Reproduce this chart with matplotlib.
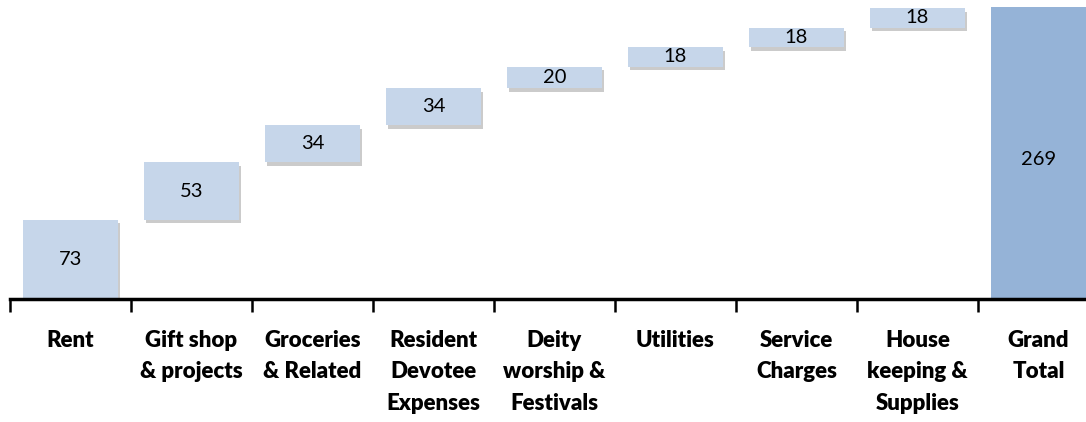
import numpy as np
import matplotlib
matplotlib.use("Agg")
import matplotlib.pyplot as plt
import matplotlib.patheffects as pe

# data
categories = ["Rent", "Gift shop\n& projects", "Groceries\n& Related", "Resident\nDevotee\nExpenses",
              "Deity\nworship &\nFestivals", "Utilities", "Service\nCharges", "House\nkeeping &\nSupplies",
              "Grand\nTotal"]
values = [73, 53, 34, 34, 20, 18, 18, 18]
total = 269

plt.rcParams['font.family'] = ['Lato', 'DejaVu Sans']

fig = plt.figure(figsize=(10.86, 4.22), dpi=100)
ax = fig.add_axes([10 / 1086, 1 - 299 / 422, 1089 / 1086, 299 / 422])

bottoms = np.concatenate([[0], np.cumsum(values)[:-1]])
x = np.arange(len(categories))
shadow = [pe.SimplePatchShadow(offset=(1.5, -2.5), shadow_rgbFace='#7f7f7f', alpha=0.4), pe.Normal()]

bars = ax.bar(x[:-1], values, bottom=bottoms, width=0.78, color='#C6D6EA', zorder=2)
for b in bars:
    b.set_path_effects(shadow)
tb = ax.bar(x[-1], total, width=0.78, color='#95B3D7', zorder=2)
tb[0].set_path_effects(shadow)

for xi, v, b0 in zip(x[:-1], values, bottoms):
    ax.text(xi, b0 + v / 2, str(v), ha='center', va='center', fontsize=14.5, color='black', zorder=3)
ax.text(x[-1], total / 2 - 6, str(total), ha='center', va='center', fontsize=14.5, color='black', zorder=3)

ax.set_xlim(-0.5, len(categories) - 0.5)
ax.set_ylim(0, 275.5)

ax.set_xticks(x)
ax.set_xticklabels(categories, fontsize=16, fontweight='heavy', linespacing=1.62, va='top')
ax.tick_params(axis='x', which='major', length=0, pad=22)
ax.set_xticks(np.arange(len(categories) + 1) - 0.5, minor=True)
ax.tick_params(axis='x', which='minor', length=9, width=1.8, color='black', direction='out')

ax.set_yticks([])
for s in ['top', 'right', 'left']:
    ax.spines[s].set_visible(False)
ax.spines['bottom'].set_linewidth(2.5)
ax.spines['bottom'].set_zorder(4)

fig.savefig("out.png", dpi=100)
